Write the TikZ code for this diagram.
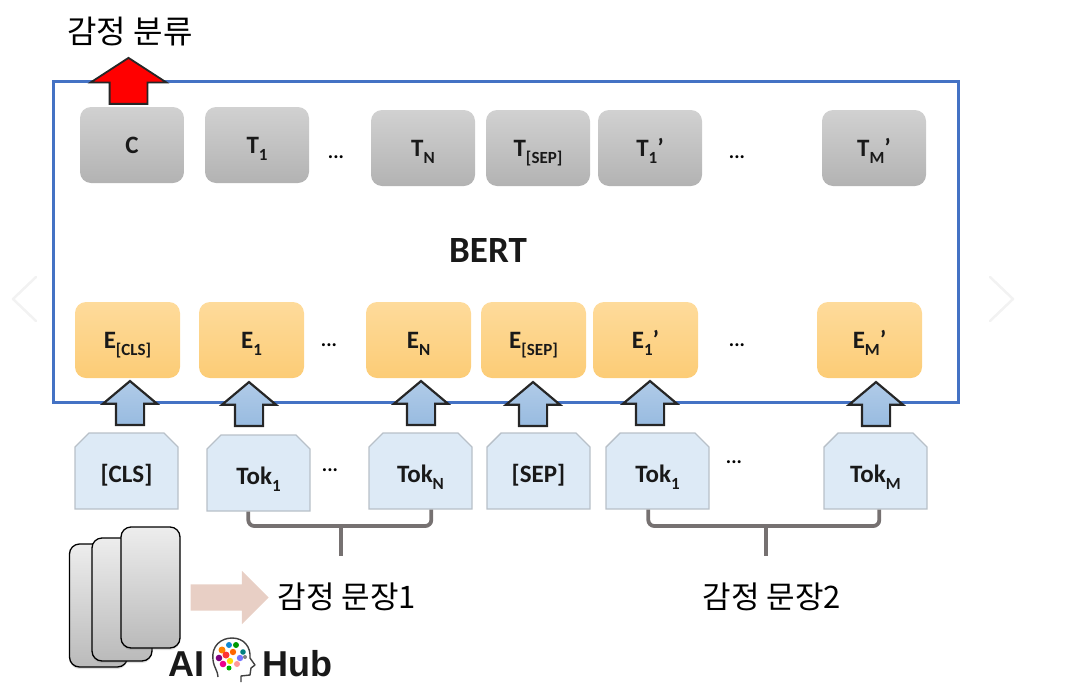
\documentclass[tikz,border=0pt]{standalone}
\usepackage{fontspec}
\setmainfont{Carlito}
\newfontfamily\krfont{Noto Sans CJK KR}
\newfontfamily\hubfont{Liberation Sans}
\usetikzlibrary{shapes.arrows,shapes.misc,shadows,calc}
\newcommand{\subt}[1]{\raisebox{-0.28em}{\fontsize{17}{18}\selectfont #1}}
\definecolor{bertblue}{HTML}{4472C4}
\definecolor{embtop}{RGB}{254,219,155}
\definecolor{embbot}{RGB}{252,204,118}
\definecolor{tokfill}{RGB}{221,234,246}
\definecolor{tokline}{RGB}{184,192,200}
\definecolor{arrtop}{RGB}{176,203,232}
\definecolor{arrbot}{RGB}{152,187,224}
\definecolor{pinkfill}{RGB}{232,207,197}
\definecolor{brackcol}{RGB}{118,113,113}
\tikzset{
  x=1pt,y=-1pt,
  outbox/.style={rounded corners=11pt,minimum width=104pt,minimum height=76pt,inner sep=0pt,text height=16pt,text depth=0pt,
    top color=black!18,bottom color=black!30,font=\bfseries\fontsize{25}{27}\selectfont,text=black!90},
  embbox/.style={rounded corners=11pt,minimum width=105pt,minimum height=76pt,inner sep=0pt,text height=16pt,text depth=0pt,
    top color=embtop,bottom color=embbot,font=\bfseries\fontsize{25}{27}\selectfont,text=black!90},
  tokbox/.style={chamfered rectangle,chamfered rectangle corners={north west,north east},chamfered rectangle xsep=7pt,chamfered rectangle ysep=7pt,
    text width=89pt,align=center,text height=42pt,text depth=20pt,inner sep=0pt,fill=tokfill,draw=tokline,line width=1.4pt,
    font=\bfseries\fontsize{25}{27}\selectfont,text=black!90},
  uparrow/.style={single arrow,rotate=90,single arrow head extend=13pt,single arrow head indent=0pt,single arrow tip angle=100,
    minimum height=44pt,minimum width=52pt,inner xsep=0pt,inner ysep=13pt,draw=black!85,line width=2.2pt,line join=miter,
    top color=arrtop,bottom color=arrbot},
  redarrow/.style={single arrow,rotate=90,single arrow head extend=19pt,single arrow head indent=0pt,single arrow tip angle=114,
    minimum height=46pt,minimum width=74pt,inner xsep=0pt,inner ysep=18pt,draw=black!85,line width=1.8pt,fill=red},
  pinkarrow/.style={single arrow,single arrow head extend=13.5pt,single arrow head indent=0pt,minimum height=78pt,minimum width=53pt,inner xsep=0pt,inner ysep=13pt,
    fill=pinkfill},
  dotslabel/.style={inner sep=0pt,font=\bfseries\fontsize{20}{22}\selectfont},
  krlabel/.style={inner sep=0pt,font=\krfont\fontsize{32}{34}\selectfont,text=black},
  hublabel/.style={inner sep=0pt,font=\hubfont\bfseries\fontsize{36}{38}\selectfont,text=black!90},
  cardbox/.style={rounded corners=10pt,draw=black,line width=1.3pt,top color=black!7,bottom color=black!27,drop shadow={shadow xshift=0pt,shadow yshift=-2pt,opacity=.25}},
  bracketline/.style={draw=brackcol,line width=3.8pt,rounded corners=6pt},
  chevron/.style={draw=black!5,line width=2.5pt,line cap=round,line join=round},
  brainline/.style={draw=black!75,line width=1.4pt,line join=round,fill=white},
}
\begin{document}
\begin{tikzpicture}
\useasboundingbox (0,0) rectangle (1072,694);
% faint viewer chevrons
\draw[chevron] (36,277) -- (13,299) -- (36,321);
\draw[chevron] (990,277) -- (1013,299) -- (990,321);
% BERT frame
\node[draw=bertblue,line width=3pt,minimum width=905pt,minimum height=321pt,inner sep=0pt] (bert) at (505.5,241.5) {};
\node[inner sep=0pt,font=\bfseries\fontsize{37}{39}\selectfont,text=black!90] (bertlabel) at (488,250) {BERT};
% output row
\node[outbox] (oc) at (132,145) {C};
\node[outbox] (ot1) at (257,145) {T\subt{1}};
\node[outbox] (otn) at (423,148) {T\subt{N}};
\node[outbox] (otsep) at (538,148) {T\subt{[SEP]}};
\node[outbox] (otp) at (650,148) {T\subt{1}’};
\node[outbox] (otm) at (874,148) {T\subt{M}’};
\node[dotslabel] (d1) at (336,157) {...};
\node[dotslabel] (d2) at (737,157) {...};
% embedding row
\node[embbox] (ecls) at (127.5,340) {E\subt{[CLS]}};
\node[embbox] (e1) at (251.5,340) {E\subt{1}};
\node[embbox] (en) at (418.5,340) {E\subt{N}};
\node[embbox] (esep) at (533.5,340) {E\subt{[SEP]}};
\node[embbox] (ep) at (645.5,340) {E\subt{1}’};
\node[embbox] (em) at (869.5,340) {E\subt{M}’};
\node[dotslabel] (d3) at (329,345) {...};
\node[dotslabel] (d4) at (737,345) {...};
% token row
\node[tokbox] (tcls) at (126.5,471) {[CLS]};
\node[tokbox] (t1) at (258.5,473) {Tok\subt{1}};
\node[tokbox] (tn) at (420.5,471) {Tok\subt{N}};
\node[tokbox] (tsep) at (538.5,471) {[SEP]};
\node[tokbox] (tp) at (657.5,471) {Tok\subt{1}};
\node[tokbox] (tm) at (875.5,471) {Tok\subt{M}};
\node[dotslabel] (d5) at (330,470) {...};
\node[dotslabel] (d6) at (734,462) {...};
% block arrows
\node[uparrow] (a1) at (130,409) {};
\node[uparrow] (a2) at (249,410) {};
\node[uparrow] (a3) at (421,409) {};
\node[uparrow] (a4) at (533,410) {};
\node[uparrow] (a5) at (650,409) {};
\node[uparrow] (a6) at (876,410) {};
\node[redarrow] (red) at (128.5,87) {};
\node[krlabel] (klass) at (130,32) {감정 분류};
% brackets
\coordinate (b1a) at ($(t1.south west)+(42,0)$);
\coordinate (b1b) at ($(tn.south west)+(63,0)$);
\coordinate (j1a) at (b1a |- 0,526);
\coordinate (j1b) at (b1b |- 0,526);
\coordinate (s1t) at (341,526);
\coordinate (s1b) at (341,556);
\draw[bracketline] (b1a) -- (j1a) -- (j1b) -- (b1b);
\draw[bracketline] (s1t) -- (s1b);
\coordinate (b2a) at ($(tp.south west)+(43,0)$);
\coordinate (b2b) at ($(tm.south west)+(56,0)$);
\coordinate (j2a) at (b2a |- 0,526);
\coordinate (j2b) at (b2b |- 0,526);
\coordinate (s2t) at (766,526);
\coordinate (s2b) at (766,556);
\draw[bracketline] (b2a) -- (j2a) -- (j2b) -- (b2b);
\draw[bracketline] (s2t) -- (s2b);
% data cards
\node[cardbox,minimum width=58pt,minimum height=123pt,inner sep=0pt] (c1) at (98.5,605.5) {};
\node[cardbox,minimum width=60pt,minimum height=123pt,inner sep=0pt] (c2) at (122,599.5) {};
\node[cardbox,minimum width=59pt,minimum height=121pt,inner sep=0pt] (c3) at (150.5,587.5) {};
\node[pinkarrow] (pink) at (223,597.5) {};
\node[krlabel,font=\krfont\fontsize{31}{33}\selectfont] (s1) at (347,597) {감정 문장1};
\node[krlabel,font=\krfont\fontsize{31}{33}\selectfont] (s2) at (772,597) {감정 문장2};
% AI Hub logo
\node[hublabel] (ai) at (186.5,664) {AI};
\node[hublabel] (hub) at (297,664) {Hub};
\draw[brainline] (218,677) .. controls (218,671) and (214,668) .. (213,660)
  .. controls (211,646) and (221,638) .. (232,638)
  .. controls (244,638) and (251,647) .. (250,658)
  -- (255,665) -- (251,668) -- (250,675) -- (241,676) -- (241,682);
\foreach \px/\py/\pc/\pr in {
  222/650/orange/3.5, 229/645/cyan!70!blue/3, 236/645/green!60!black/3, 243/652/teal/2.8,
  219/658/violet/3.3, 226/655/red!80/3.5, 233/652/orange!80!red/3.2, 240/658/blue!55/3.2,
  223/664/magenta/3.3, 230/661/yellow!80!orange/3.2, 237/664/pink!80!red/3, 229/668/green!70!black/2.5, 245/657/black!50/2}
  \fill[\pc] (\px,\py) circle[radius=\pr];
\end{tikzpicture}
\end{document}
